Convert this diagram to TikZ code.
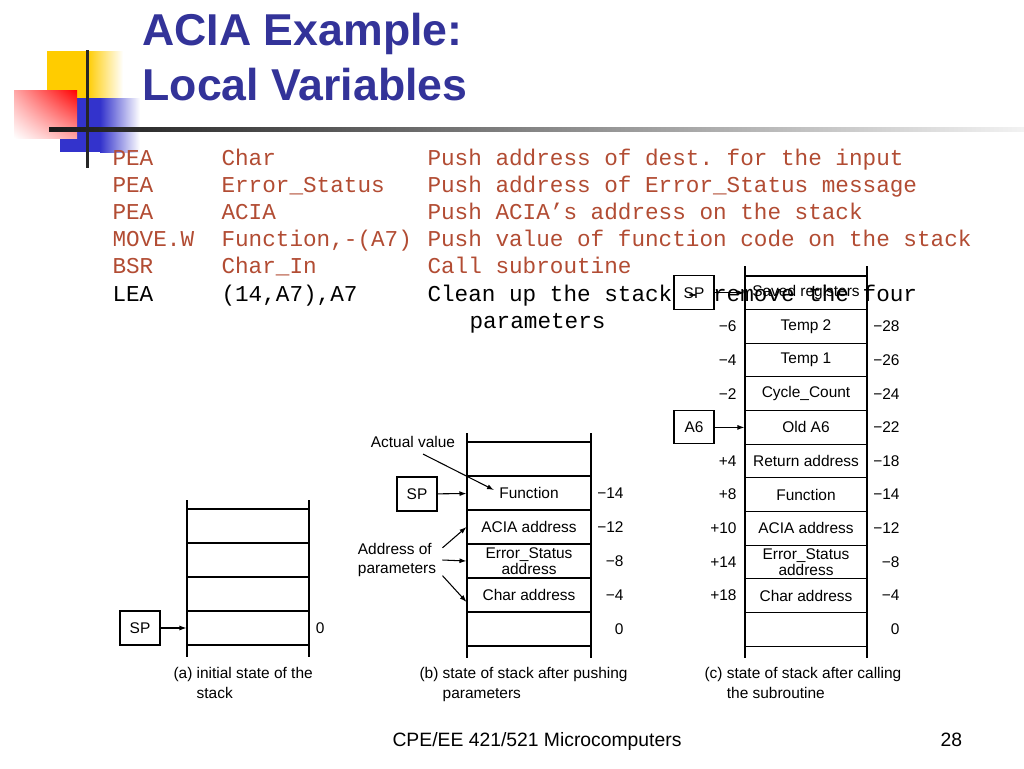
\documentclass[tikz,border=0pt]{standalone}
\usepackage{fontspec}
\setmainfont{Liberation Sans}
\setmonofont{Liberation Mono}
\usetikzlibrary{arrows.meta}
\usetikzlibrary{shadings}
\definecolor{titleblue}{RGB}{51,51,153}
\definecolor{codered}{RGB}{178,76,51}
\definecolor{sqyellow}{RGB}{255,204,0}
\definecolor{sqblue}{RGB}{51,51,204}
\definecolor{sqred}{RGB}{255,0,0}
\newcommand{\lblfont}{\fontsize{8.8}{8}\selectfont}
\newcommand{\codefont}{\ttfamily\fontsize{12.9}{15}\selectfont}
\tikzset{
	cell/.style={draw, minimum width=2.44cm, minimum height=0.68cm, inner sep=0pt, align=center, font=\lblfont},
	spbox/.style={draw, minimum width=0.8cm, minimum height=0.68cm, inner sep=0pt, font=\lblfont},
	num/.style={anchor=east, inner sep=0pt, font=\lblfont},
	code/.style={anchor=base west, inner sep=0pt, font=\codefont, text=codered},
	arr/.style={-{Latex[length=1.4mm,width=1mm]}},
	capt/.style={anchor=north west, inner sep=0pt, align=left, font=\fontsize{8.8}{11}\selectfont},
}

\begin{document}
\begin{tikzpicture}[x=0.02cm, y=-0.02cm, line width=0.6pt]
	\useasboundingbox (0,0) rectangle (1024,768);
	\fill[white] (0,0) rectangle (1024,768);

	% corner squares
	\fill[sqyellow] (47,51) rectangle (87,98);
	\shade[left color=sqyellow, right color=white] (87,51) rectangle (123,98);
	\fill[sqblue] (60,98) rectangle (100,152);
	\shade[left color=sqblue, right color=white] (100,98) rectangle (140,152);
	\shade[upper right=sqred, lower left=white, upper left=sqred!35!white, lower right=sqred!35!white] (14,90) rectangle (77,138);
	\fill[black!85] (85.5,50) rectangle (88.5,168);
	\shade[left color=black!90, right color=black!5] (49,127) rectangle (1024,131);

	% title
	\node[anchor=base west, inner sep=0pt, text=titleblue, font=\bfseries\fontsize{25.4}{30}\selectfont] (title1) at (142,45) {ACIA Example:};
	\node[anchor=base west, inner sep=0pt, text=titleblue, font=\bfseries\fontsize{25.4}{30}\selectfont] (title2) at (142,100) {Local Variables};

	% program
	\node[code] (op1) at (112,165) {PEA};
	\node[code] (arg1) at (221,165) {Char};
	\node[code] (cmt1) at (427,165) {Push address of dest. for the input};
	\node[code] (op2) at (112,192.2) {PEA};
	\node[code] (arg2) at (221,192.2) {Error\_Status};
	\node[code] (cmt2) at (427,192.2) {Push address of Error\_Status message};
	\node[code] (op3) at (112,219.4) {PEA};
	\node[code] (arg3) at (221,219.4) {ACIA};
	\node[code] (cmt3) at (427,219.4) {Push ACIA’s address on the stack};
	\node[code] (op4) at (112,246.6) {MOVE.W};
	\node[code] (arg4) at (221,246.6) {Function,-(A7)};
	\node[code] (cmt4) at (427,246.6) {Push value of function code on the stack};
	\node[code] (op5) at (112,273.8) {BSR};
	\node[code] (arg5) at (221,273.8) {Char\_In};
	\node[code] (cmt5) at (427,273.8) {Call subroutine};
	\node[code, text=black] (op6) at (112,301) {LEA};
	\node[code, text=black] (arg6) at (221,301) {(14,A7),A7};
	\node[code, text=black] (cmt6) at (427,301) {Clean up the stack - remove the four};
	\node[code, text=black] (cmt6b) at (469,328.2) {parameters};

	% (a) initial stack
	\draw (187,500) -- (187,657);
	\draw (309,500) -- (309,657);
	\node[cell] (a1) at (248,526) {};
	\node[cell] (a2) at (248,560) {};
	\node[cell] (a3) at (248,594) {};
	\node[cell] (a4) at (248,628) {};
	\node[spbox] (spa) at (140,628) {SP};
	\draw[arr] (spa) -- (a4);
	\node[num] (na4) at (325,628) {0};
	\node[capt] (capa) at (173,667) {(a) initial state of the\\\phantom{(a) }stack};

	% (b) after pushing parameters
	\draw (467,433) -- (467,658);
	\draw (591,433) -- (591,658);
	\node[cell, minimum width=2.48cm] (b1) at (529,459) {};
	\node[cell, minimum width=2.48cm] (b2) at (529,493) {Function};
	\node[cell, minimum width=2.48cm] (b3) at (529,527) {ACIA address};
	\node[cell, minimum width=2.48cm] (b4) at (529,561) {Error\_Status\\address};
	\node[cell, minimum width=2.48cm] (b5) at (529,595) {Char address};
	\node[cell, minimum width=2.48cm] (b6) at (529,629) {};
	\node[spbox] (spb) at (417,494) {SP};
	\draw[arr] (spb) -- (b2);
	\node[num] (nb2) at (624,493) {−14};
	\node[num] (nb3) at (624,527) {−12};
	\node[num] (nb4) at (624,561) {−8};
	\node[num] (nb5) at (624,595) {−4};
	\node[num] (nb6) at (624,629) {0};
	\node[font=\lblfont] (actual) at (413,442) {Actual value};
	\coordinate (fntip) at (494,490);
	\draw[arr] ([xshift=0.2cm]actual.south) -- (fntip);
	\node[align=left, font=\fontsize{8.8}{10.8}\selectfont] (addr) at (397,560) {Address of\\parameters};
	\draw[arr] (addr.15) -- (b3.west);
	\draw[arr] (addr.east) -- (b4.west);
	\draw[arr] (addr.-19) -- ([yshift=-0.14cm]b5.west);
	\node[capt] (capb) at (419,667) {(b) state of stack after pushing\\\phantom{(b) }parameters};

	% (c) after calling the subroutine
	\draw (745,266) -- (745,658);
	\draw (867,266) -- (867,658);
	\node[cell, minimum height=0.6728cm] (c1) at (806,292.8) {Saved registers};
	\node[cell, minimum height=0.6728cm] (c2) at (806,326.5) {Temp 2};
	\node[cell, minimum height=0.6728cm] (c3) at (806,360.1) {Temp 1};
	\node[cell, minimum height=0.6728cm] (c4) at (806,393.7) {Cycle\_Count};
	\node[cell, minimum height=0.6728cm] (c5) at (806,427.4) {Old A6};
	\node[cell, minimum height=0.6728cm] (c6) at (806,461.0) {Return address};
	\node[cell, minimum height=0.6728cm] (c7) at (806,494.6) {Function};
	\node[cell, minimum height=0.6728cm] (c8) at (806,528.3) {ACIA address};
	\node[cell, minimum height=0.6728cm] (c9) at (806,561.9) {Error\_Status\\address};
	\node[cell, minimum height=0.6728cm] (c10) at (806,595.5) {Char address};
	\node[cell, minimum height=0.6728cm] (c11) at (806,629.2) {};
	\node[spbox] (spc) at (694,292.8) {SP};
	\draw[arr] (spc) -- (c1);
	\node[spbox, minimum height=0.66cm] (a6) at (694,427.4) {A6};
	\draw[arr] (a6) -- (c5);
	\node[num] (lc2) at (737,326.5) {−6};
	\node[num] (lc3) at (737,360.1) {−4};
	\node[num] (lc4) at (737,393.7) {−2};
	\node[num] (lc6) at (737,461.0) {+4};
	\node[num] (lc7) at (737,494.6) {+8};
	\node[num] (lc8) at (737,528.3) {+10};
	\node[num] (lc9) at (737,561.9) {+14};
	\node[num] (lc10) at (737,595.5) {+18};
	\node[num] (rc2) at (900,326.5) {−28};
	\node[num] (rc3) at (900,360.1) {−26};
	\node[num] (rc4) at (900,393.7) {−24};
	\node[num] (rc5) at (900,427.4) {−22};
	\node[num] (rc6) at (900,461.0) {−18};
	\node[num] (rc7) at (900,494.6) {−14};
	\node[num] (rc8) at (900,528.3) {−12};
	\node[num] (rc9) at (900,561.9) {−8};
	\node[num] (rc10) at (900,595.5) {−4};
	\node[num] (rc11) at (900,629.2) {0};
	\node[capt] (capc) at (704,667) {(c) state of stack after calling\\\phantom{(c) }the subroutine};

	% footer
	\node[anchor=base west, inner sep=0pt, font=\fontsize{11}{13}\selectfont] (foot) at (392,746) {CPE/EE 421/521 Microcomputers};
	\node[anchor=base west, inner sep=0pt, font=\fontsize{11}{13}\selectfont] (page) at (940,746) {28};
\end{tikzpicture}
\end{document}
